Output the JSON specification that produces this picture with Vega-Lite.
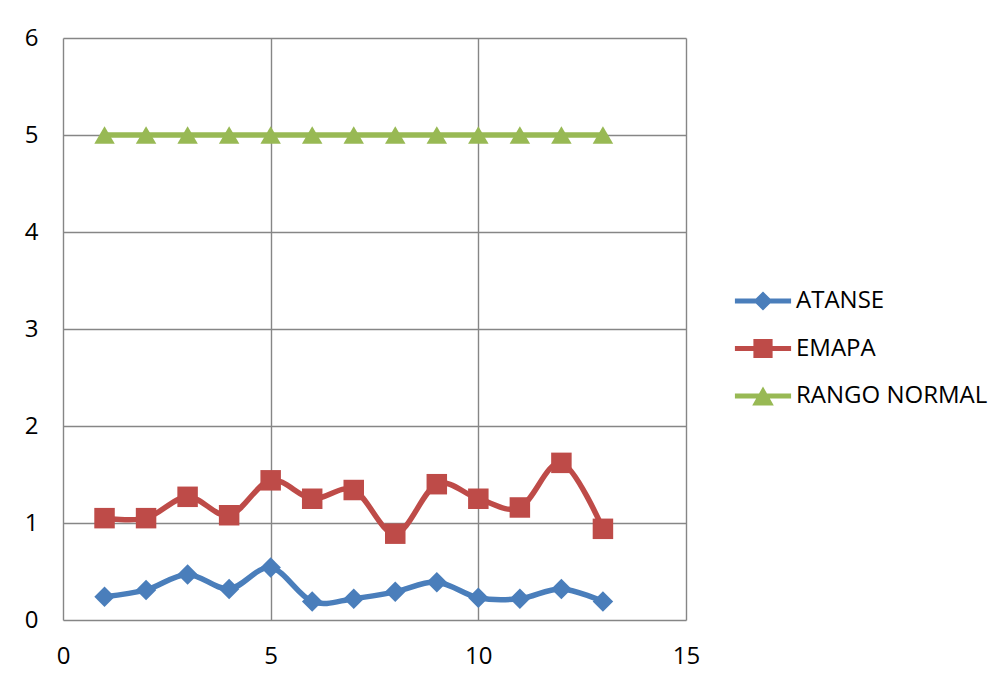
{
  "$schema": "https://vega.github.io/schema/vega-lite/v6.json",
  "autosize": "none",
  "padding": {"left": 63, "top": 38, "right": 315, "bottom": 63},
  "width": 623,
  "height": 582,
  "background": "white",
  "data": {
    "values": [
      {"x": 1, "serie": "ATANSE", "valor": 0.24},
      {"x": 2, "serie": "ATANSE", "valor": 0.31},
      {"x": 3, "serie": "ATANSE", "valor": 0.47},
      {"x": 4, "serie": "ATANSE", "valor": 0.32},
      {"x": 5, "serie": "ATANSE", "valor": 0.54},
      {"x": 6, "serie": "ATANSE", "valor": 0.19},
      {"x": 7, "serie": "ATANSE", "valor": 0.22},
      {"x": 8, "serie": "ATANSE", "valor": 0.29},
      {"x": 9, "serie": "ATANSE", "valor": 0.39},
      {"x": 10, "serie": "ATANSE", "valor": 0.23},
      {"x": 11, "serie": "ATANSE", "valor": 0.22},
      {"x": 12, "serie": "ATANSE", "valor": 0.32},
      {"x": 13, "serie": "ATANSE", "valor": 0.19},
      {"x": 1, "serie": "EMAPA", "valor": 1.05},
      {"x": 2, "serie": "EMAPA", "valor": 1.05},
      {"x": 3, "serie": "EMAPA", "valor": 1.27},
      {"x": 4, "serie": "EMAPA", "valor": 1.08},
      {"x": 5, "serie": "EMAPA", "valor": 1.44},
      {"x": 6, "serie": "EMAPA", "valor": 1.25},
      {"x": 7, "serie": "EMAPA", "valor": 1.34},
      {"x": 8, "serie": "EMAPA", "valor": 0.89},
      {"x": 9, "serie": "EMAPA", "valor": 1.40},
      {"x": 10, "serie": "EMAPA", "valor": 1.25},
      {"x": 11, "serie": "EMAPA", "valor": 1.16},
      {"x": 12, "serie": "EMAPA", "valor": 1.62},
      {"x": 13, "serie": "EMAPA", "valor": 0.94},
      {"x": 1, "serie": "RANGO NORMAL", "valor": 5},
      {"x": 2, "serie": "RANGO NORMAL", "valor": 5},
      {"x": 3, "serie": "RANGO NORMAL", "valor": 5},
      {"x": 4, "serie": "RANGO NORMAL", "valor": 5},
      {"x": 5, "serie": "RANGO NORMAL", "valor": 5},
      {"x": 6, "serie": "RANGO NORMAL", "valor": 5},
      {"x": 7, "serie": "RANGO NORMAL", "valor": 5},
      {"x": 8, "serie": "RANGO NORMAL", "valor": 5},
      {"x": 9, "serie": "RANGO NORMAL", "valor": 5},
      {"x": 10, "serie": "RANGO NORMAL", "valor": 5},
      {"x": 11, "serie": "RANGO NORMAL", "valor": 5},
      {"x": 12, "serie": "RANGO NORMAL", "valor": 5},
      {"x": 13, "serie": "RANGO NORMAL", "valor": 5}
    ]
  },
  "encoding": {
    "x": {
      "field": "x", "type": "quantitative",
      "scale": {"domain": [0, 15], "nice": false, "zero": false},
      "axis": {"values": [0, 5, 10, 15], "title": null, "grid": true, "ticks": false, "domain": false,
               "labelPadding": 24, "labelFlush": false, "labelOverlap": false}
    },
    "y": {
      "field": "valor", "type": "quantitative",
      "scale": {"domain": [0, 6], "nice": false},
      "axis": {"values": [0, 1, 2, 3, 4, 5, 6], "title": null, "grid": true, "ticks": false, "domain": false,
               "labelPadding": 25}
    },
    "color": {
      "field": "serie", "type": "nominal",
      "scale": {"domain": ["ATANSE", "EMAPA", "RANGO NORMAL"], "range": ["#4A7EBB", "#BE4B48", "#98B954"]},
      "legend": null
    }
  },
  "layer": [
    {
      "mark": {"type": "line", "interpolate": "cardinal", "strokeWidth": 5.5, "strokeCap": "round", "strokeJoin": "round"}
    },
    {
      "mark": {"type": "point", "filled": true, "opacity": 1, "size": 420},
      "encoding": {
        "shape": {
          "field": "serie", "type": "nominal",
          "scale": {"domain": ["ATANSE", "EMAPA", "RANGO NORMAL"], "range": ["diamond", "square", "triangle-up"]},
          "legend": null
        }
      }
    },
    {
      "transform": [{"filter": "datum.x > 100"}],
      "mark": {"type": "point", "filled": true, "opacity": 1, "size": 2304},
      "encoding": {
        "color": {
          "field": "serie", "type": "nominal",
          "legend": {
            "title": null,
            "orient": "none",
            "legendX": 676,
            "legendY": 239,
            "symbolSize": 2304,
            "symbolStrokeWidth": 0,
            "symbolOpacity": 1,
            "labelOffset": 9,
            "rowPadding": 11.5,
            "labelFontSize": 24,
            "labelFont": "Open Sans",
            "labelColor": "#000000",
            "labelLimit": 400
          }
        },
        "shape": {
          "field": "serie", "type": "nominal",
          "scale": {
            "domain": ["ATANSE", "EMAPA", "RANGO NORMAL"],
            "range": [
              "M-1.17,-0.1L1.17,-0.1L1.17,0.1L-1.17,0.1Z M0,-0.4L0.4,0L0,0.4L-0.4,0Z",
              "M-1.17,-0.1L1.17,-0.1L1.17,0.1L-1.17,0.1Z M-0.4,-0.4L0.4,-0.4L0.4,0.4L-0.4,0.4Z",
              "M-1.17,-0.1L1.17,-0.1L1.17,0.1L-1.17,0.1Z M0,-0.4L0.45,0.4L-0.45,0.4Z"
            ]
          },
          "legend": {
            "title": null,
            "orient": "none",
            "legendX": 676,
            "legendY": 239,
            "symbolSize": 2304,
            "symbolStrokeWidth": 0,
            "symbolOpacity": 1,
            "labelOffset": 9,
            "rowPadding": 11.5,
            "labelFontSize": 24,
            "labelFont": "Open Sans",
            "labelColor": "#000000",
            "labelLimit": 400
          }
        }
      }
    }
  ],
  "resolve": {
    "scale": {"shape": "independent"},
    "legend": {"color": "independent", "shape": "independent"}
  },
  "config": {
    "view": {"stroke": null},
    "axis": {
      "gridColor": "#868686",
      "gridWidth": 1.4,
      "gridOpacity": 1,
      "labelFont": "Open Sans",
      "labelFontSize": 24,
      "labelColor": "#000000"
    }
  }
}
